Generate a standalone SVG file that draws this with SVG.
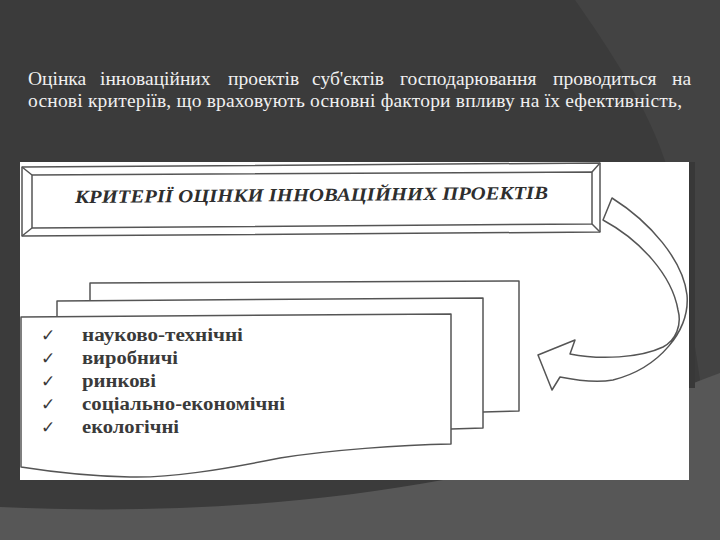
<svg xmlns="http://www.w3.org/2000/svg" width="720" height="540" viewBox="0 0 720 540">
<style>
.bg{fill:#3b3b3b}
.intro{font-family:"Liberation Serif","Times New Roman",serif;font-size:19.5px;fill:#f0f0f0}
.title{font-family:"Liberation Serif","Times New Roman",serif;font-size:18.5px;font-weight:bold;font-style:italic;fill:#2e2e2e}
.item{font-family:"Liberation Serif","Times New Roman",serif;font-size:18px;font-weight:bold;fill:#3a3a3a}
.chk{font-family:"DejaVu Sans",sans-serif;font-size:17px;fill:#3a3a3a}
.ln{fill:#fff;stroke:#555;stroke-width:1.5;stroke-linejoin:round}
.edge{fill:none;stroke:#555;stroke-width:1.5}
</style>
<rect class="bg" x="0" y="0" width="720" height="540"/>
<path d="M575,0 C610,50 650,110 668,170 L700,380 L720,540 L720,0 Z" fill="#434343"/>
<path d="M0,507 C150,514 300,506 443,480 C560,445 650,398 720,373 L720,540 L0,540 Z" fill="#575757"/>
<rect x="689" y="162" width="6" height="226" fill="#383838"/>
<text class="intro" y="85"><tspan x="28">Оцінка</tspan><tspan x="100">інноваційних</tspan><tspan x="228">проектів</tspan><tspan x="312">суб'єктів</tspan><tspan x="400">господарювання</tspan><tspan x="553">проводиться</tspan><tspan x="672">на</tspan></text>
<text class="intro" x="28" y="107" textLength="654" lengthAdjust="spacing">основі критеріїв, що враховують основні фактори впливу на їх ефективність,</text>
<rect x="20" y="162" width="669" height="318" fill="#ffffff"/>
<g id="banner">
<polygon class="ln" points="22,167 600,163 600,232 22,236"/>
<polygon class="ln" points="32,175 592,172 592,224 32,228"/>
<path class="edge" d="M22,167 L32,175 M600,163 L592,172 M600,232 L592,224 M22,236 L32,228"/>
<text class="title" x="75" y="201" textLength="473" lengthAdjust="spacingAndGlyphs" transform="rotate(-0.5 310 200)">КРИТЕРІЇ ОЦІНКИ ІННОВАЦІЙНИХ ПРОЕКТІВ</text>
</g>
<g id="page-back">
<path class="ln" d="M90,300 L90,283 L519,281 L519,411 L483,412"/>
</g>
<g id="page-middle">
<path class="ln" d="M57,318 L57,301 L483,298 L483,428 L451,429"/>
</g>
<g id="page-front">
<path class="ln" d="M21,467 L21,317 L451,314 L451,444 C400,445 330,450 280,458 C220,470 170,478 130,477 C80,476 40,470 21,467 Z"/>
<text class="chk" x="41" y="341">✓</text>
<text class="chk" x="41" y="364">✓</text>
<text class="chk" x="41" y="387">✓</text>
<text class="chk" x="41" y="410">✓</text>
<text class="chk" x="41" y="433">✓</text>
<text class="item" x="82" y="341" textLength="161" lengthAdjust="spacingAndGlyphs">науково-технічні</text>
<text class="item" x="82" y="364" textLength="96" lengthAdjust="spacingAndGlyphs">виробничі</text>
<text class="item" x="82" y="387" textLength="74" lengthAdjust="spacingAndGlyphs">ринкові</text>
<text class="item" x="82" y="410" textLength="203" lengthAdjust="spacingAndGlyphs">соціально-економічні</text>
<text class="item" x="82" y="433" textLength="97" lengthAdjust="spacingAndGlyphs">екологічні</text>
</g>
<g id="connectors">
<path class="ln" d="M612,198 C650,222 683,260 687,295 C690,330 660,368 613,380 C595,383 575,380 560,377 L552,390 L538,355 L575,340 L570,354 C600,360 640,358 663,347 C676,340 682,325 678,310 C672,275 640,240 603,220 Z"/>
</g>
</svg>
